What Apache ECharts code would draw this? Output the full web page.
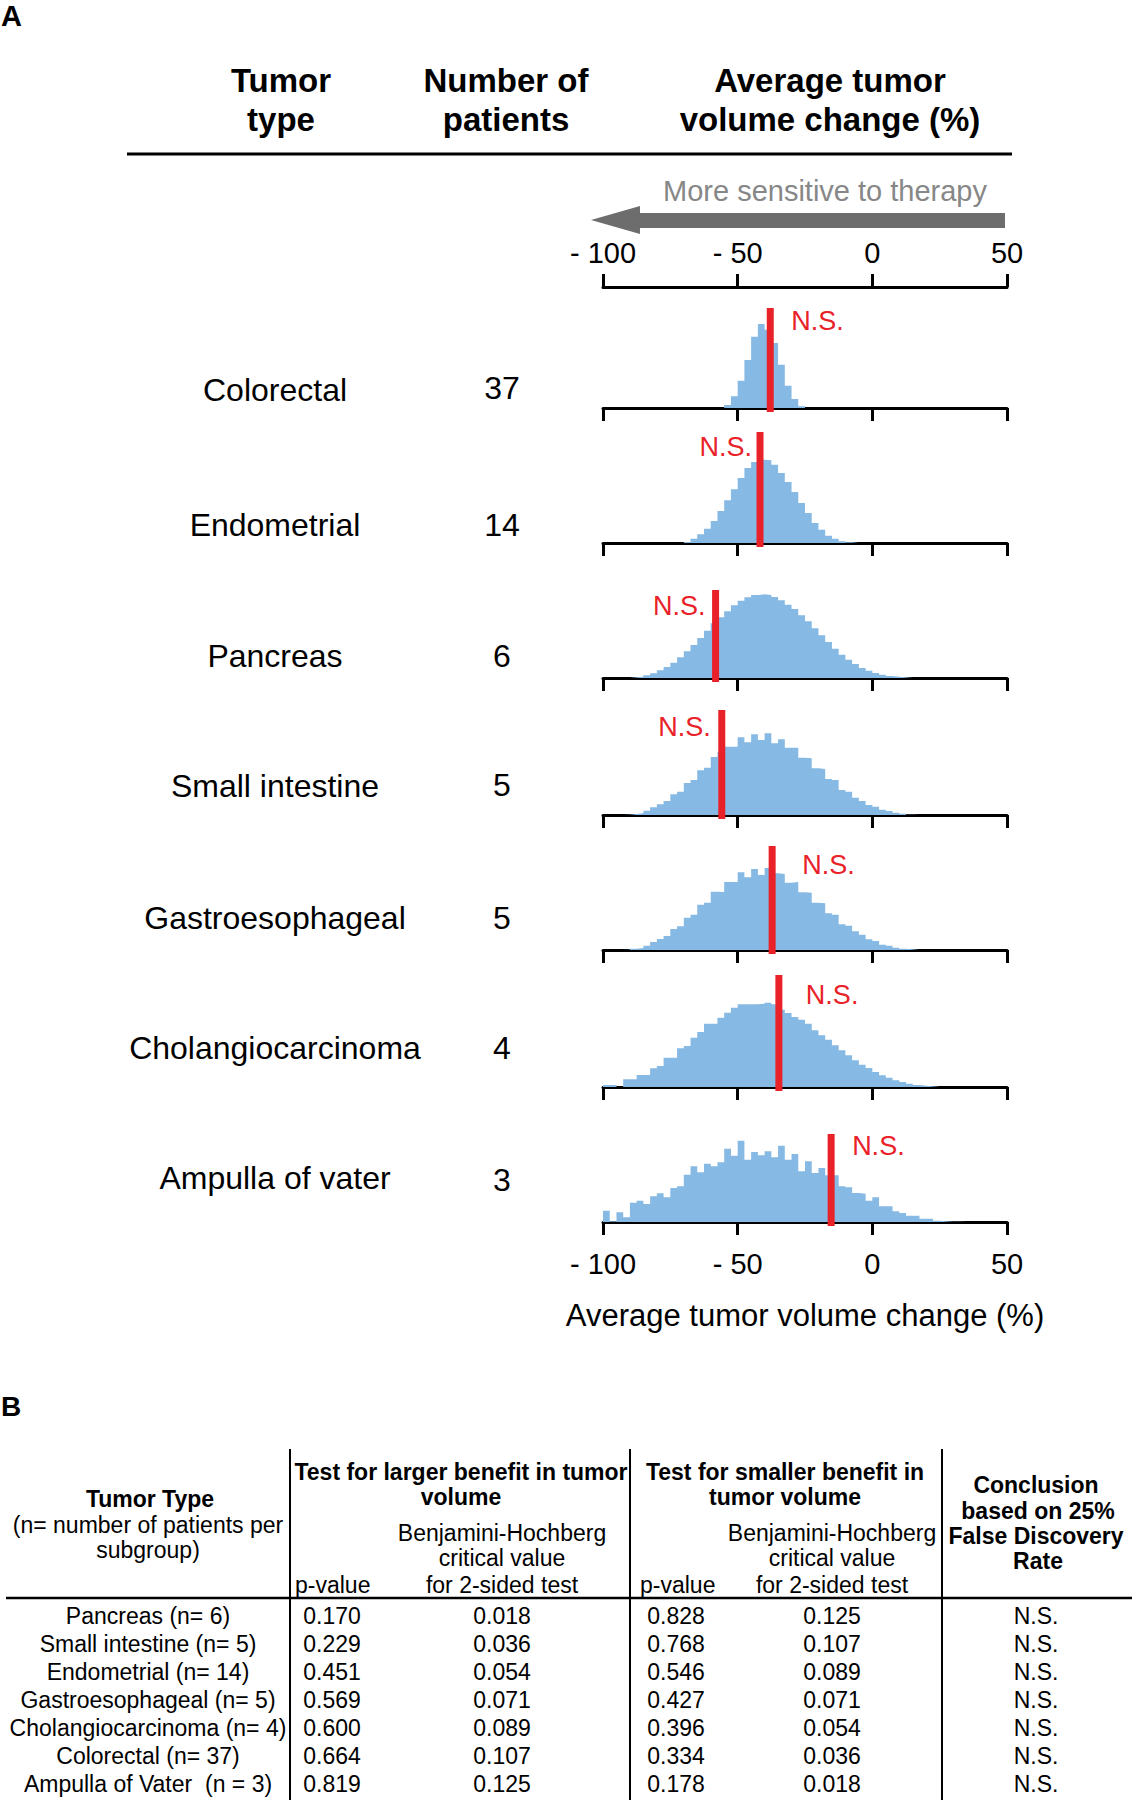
<!DOCTYPE html>
<html><head><meta charset="utf-8">
<script src="https://cdn.jsdelivr.net/npm/echarts@6/dist/echarts.min.js"></script>
<style>html,body{margin:0;padding:0;background:#fff}#chart{width:1132px;height:1800px}</style>
</head><body><div id="chart"></div>
<script>
// ---------------- DATA ----------------
const tumorTypes = ['Colorectal','Endometrial','Pancreas','Small intestine','Gastroesophageal','Cholangiocarcinoma','Ampulla of vater'];
const patientCounts = [37, 14, 6, 5, 5, 4, 3];
const binStart = -100;
const binWidth = 2.5;
// relative frequency of each 2.5-point bin from -100 to +50 (60 bins)
const histColorectal = [0,0,0,0,0,0,0,0,0,0, 0,0,0,0,0,0,0,0,9,35, 82,144,214,252,235,195,130,67,27,5, 0,0,0,0,0,0,0,0,0,0, 0,0,0,0,0,0,0,0,0,0, 0,0,0,0,0,0,0,0,0,0];
const histEndometrial = [0,0,0,0,0,0,0,0,0,0, 0,0,3,13,26,43,66,96,128,161, 195,225,243,250,248,235,210,183,153,120, 90,60,40,22,13,5,2,0,0,0, 0,0,0,0,0,0,0,0,0,0, 0,0,0,0,0,0,0,0,0,0];
const histPancreas = [0,0,0,0,2,4,8,14,23,33, 46,62,80,99,120,142,164,182,200,218, 232,242,249,251,249,243,233,220,207,188, 170,149,128,108,88,70,55,42,30,22, 15,10,6,4,2,0,0,0,0,0, 0,0,0,0,0,0,0,0,0,0];
const histSmallIntestine = [0,0,0,1,3,5,13,23,32,42, 62,70,96,105,134,142,174,190,205,205, 233,218,242,225,245,215,227,202,202,172, 170,140,138,108,105,75,70,52,42,30, 25,16,12,7,4,1,0,0,0,0, 0,0,0,0,0,0,0,0,0,0];
const histGastroesophageal = [0,0,0,1,4,6,13,24,33,42, 63,71,97,106,136,142,175,174,204,204, 233,218,243,225,246,230,228,202,204,173, 172,142,140,110,106,77,73,56,46,32, 27,16,13,7,4,2,0,0,0,0, 0,0,0,0,0,0,0,0,0,0];
const histCholangio = [6,6,0,23,23,36,36,56,63,88, 88,116,123,148,165,190,190,208,223,238, 248,248,248,250,253,248,232,222,210,202, 190,170,155,142,125,110,95,80,67,57, 45,35,28,20,15,10,6,4,2,0, 0,0,0,0,0,0,0,0,0,0];
const histAmpulla = [34,2,29,14,58,64,54,77,86,74, 102,107,142,167,149,175,167,179,220,199, 244,187,210,200,212,194,229,187,204,152, 182,147,162,140,140,107,104,87,85,64, 74,47,47,32,27,19,19,10,10,4, 2,1,1,0,0,0,0,0,0,0];
const histograms = [histColorectal, histEndometrial, histPancreas, histSmallIntestine, histGastroesophageal, histCholangio, histAmpulla];
// observed average tumor volume change (red bar) and its drawn height (same units as frequency)
const observedChange = [-37.9, -41.7, -58.2, -55.9, -37.2, -34.7, -15.3];
const observedBarTop = [300, 333, 264, 315, 312, 336, 264];
const significance = ['N.S.','N.S.','N.S.','N.S.','N.S.','N.S.','N.S.'];
const xTicks = [-100, -50, 0, 50];
const xTickLabels = ['- 100', '- 50', '0', '50'];

// Table B
const tableTypes = ['Pancreas (n= 6)','Small intestine (n= 5)','Endometrial (n= 14)','Gastroesophageal (n= 5)','Cholangiocarcinoma (n= 4)','Colorectal (n= 37)','Ampulla of Vater  (n = 3)'];
const pLarger = ['0.170','0.229','0.451','0.569','0.600','0.664','0.819'];
const bhLarger = ['0.018','0.036','0.054','0.071','0.089','0.107','0.125'];
const pSmaller = ['0.828','0.768','0.546','0.427','0.396','0.334','0.178'];
const bhSmaller = ['0.125','0.107','0.089','0.071','0.054','0.036','0.018'];
const conclusions = ['N.S.','N.S.','N.S.','N.S.','N.S.','N.S.','N.S.'];

// ---------------- LAYOUT ----------------
const FF = '"Liberation Sans", Arial, Helvetica, sans-serif';
const BLUE = '#86B9E4', RED = '#E92128';
const baselines = [408, 543, 678, 815, 950, 1087, 1222];
const rowLabelY = [390, 525, 656, 786, 918, 1048, 1178];
const countY = [388, 525, 656, 785, 918, 1048, 1180];
const nsAbove = [261, 288, 216, 264, 255, 276, 228];
const nsDx = [21, -8, -10, -11, 30, 27, 21];
const GRID_H = 120, Y_MAX = 360;
const tickLabelMap = {};
xTicks.forEach((t, i) => tickLabelMap[t] = xTickLabels[i]);

const grids = [{left: 603, width: 404, top: 287, height: 1}];
const xAxes = [{
  gridIndex: 0, type: 'value', position: 'top', min: -100, max: 50, interval: 50,
  axisLine: {show: true, onZero: false, lineStyle: {color: '#000', width: 3}},
  axisTick: {show: true, length: 13, lineStyle: {color: '#000', width: 3}},
  axisLabel: {show: true, margin: 20, fontSize: 29, fontFamily: FF, color: '#000', formatter: v => tickLabelMap[v]},
  splitLine: {show: false}
}];
const yAxes = [{gridIndex: 0, type: 'value', min: 0, max: 1, show: false}];
const series = [];

histograms.forEach((h, i) => {
  const g = i + 1;
  grids.push({left: 603, width: 404, top: baselines[i] - GRID_H, height: GRID_H});
  const last = i === histograms.length - 1;
  xAxes.push({
    gridIndex: g, type: 'value', min: -100, max: 50, interval: 50,
    axisLine: {show: true, onZero: false, lineStyle: {color: '#000', width: 3}},
    axisTick: {show: true, length: 13, lineStyle: {color: '#000', width: 3}},
    axisLabel: {show: last, margin: 27, fontSize: 29, fontFamily: FF, color: '#000', formatter: v => tickLabelMap[v]},
    splitLine: {show: false},
    name: last ? 'Average tumor volume change (%)' : '',
    nameLocation: 'middle', nameGap: 78,
    nameTextStyle: {fontSize: 31, fontFamily: FF, color: '#000'}
  });
  yAxes.push({gridIndex: g, type: 'value', min: 0, max: Y_MAX, show: false});
  const pts = h.map((v, b) => [binStart + b * binWidth, v]);
  pts.push([binStart + h.length * binWidth, h[h.length - 1]]);
  series.push({
    type: 'line', xAxisIndex: g, yAxisIndex: g, step: 'end', symbol: 'none', silent: true,
    lineStyle: {width: 0, opacity: 0}, areaStyle: {color: BLUE, opacity: 1}, data: pts, z: 2
  });
  series.push({
    type: 'custom', xAxisIndex: g, yAxisIndex: g, clip: false, silent: true, z: 5,
    data: [[observedChange[i], observedBarTop[i]]],
    renderItem: function (params, api) {
      const x = api.value(0);
      const top = api.coord([x, api.value(1)]);
      const bot = api.coord([x, -12]);
      const ns = api.coord([x, nsAbove[i]]);
      const right = nsDx[i] > 0;
      return {type: 'group', children: [
        {type: 'rect', shape: {x: top[0] - 3.5, y: top[1], width: 7, height: bot[1] - top[1]}, style: {fill: RED}},
        {type: 'text', x: ns[0] + nsDx[i], y: ns[1], style: {
          text: significance[i], fill: RED, font: '27px ' + FF,
          textAlign: right ? 'left' : 'right', align: right ? 'left' : 'right',
          textVerticalAlign: 'middle', verticalAlign: 'middle'}}
      ]};
    }
  });
});

// ---------------- GRAPHICS (headers, labels, table) ----------------
const G = [];
function txt(s, x, y, size, opt) {
  opt = opt || {};
  const al = opt.align || 'center';
  G.push({type: 'text', x: x, y: y, silent: true, style: {
    text: s, fill: opt.color || '#000',
    font: (opt.bold ? 'bold ' : '') + size + 'px ' + FF,
    textAlign: al, align: al, textVerticalAlign: 'middle', verticalAlign: 'middle'}});
}
function line(x1, y1, x2, y2, w) {
  G.push({type: 'line', silent: true, shape: {x1, y1, x2, y2}, style: {stroke: '#000', lineWidth: w}});
}
txt('A', 1, 16, 29, {bold: true, align: 'left'});
txt('Tumor', 281, 80, 33, {bold: true});
txt('type', 281, 119, 33, {bold: true});
txt('Number of', 506, 80, 33, {bold: true});
txt('patients', 506, 119, 33, {bold: true});
txt('Average tumor', 830, 80, 33, {bold: true});
txt('volume change (%)', 830, 119, 33, {bold: true});
line(127, 154, 1012, 154, 3);
txt('More sensitive to therapy', 825, 191, 29, {color: '#878787'});
G.push({type: 'polygon', silent: true, shape: {points: [[591,220],[640,206],[640,213],[1005,213],[1005,228],[640,228],[640,234]]}, style: {fill: '#6d6d6d'}});
tumorTypes.forEach((t, i) => {
  txt(t, 275, rowLabelY[i], 32);
  txt(String(patientCounts[i]), 502, countY[i], 32);
});

// Table B
txt('B', 1, 1406, 28, {bold: true, align: 'left'});
const vLines = [290, 630, 942];
vLines.forEach(x => line(x, 1449, x, 1800, 2));
line(6, 1598, 1132, 1598, 2.5);
const TS = 23;
txt('Tumor Type', 150, 1499, TS, {bold: true});
txt('(n= number of patients per', 148, 1525, TS);
txt('subgroup)', 148, 1550, TS);
txt('Test for larger benefit in tumor', 461, 1472, TS, {bold: true});
txt('volume', 461, 1497, TS, {bold: true});
txt('Benjamini-Hochberg', 502, 1533, TS);
txt('critical value', 502, 1558, TS);
txt('for 2-sided test', 502, 1585, TS);
txt('p-value', 295, 1585, TS, {align: 'left'});
txt('Test for smaller benefit in', 785, 1472, TS, {bold: true});
txt('tumor volume', 785, 1497, TS, {bold: true});
txt('Benjamini-Hochberg', 832, 1533, TS);
txt('critical value', 832, 1558, TS);
txt('for 2-sided test', 832, 1585, TS);
txt('p-value', 640, 1585, TS, {align: 'left'});
txt('Conclusion', 1036, 1485, TS, {bold: true});
txt('based on 25%', 1038, 1511, TS, {bold: true});
txt('False Discovery', 1036, 1536, TS, {bold: true});
txt('Rate', 1038, 1561, TS, {bold: true});
const rowY = [1616, 1644, 1672, 1700, 1728, 1756, 1784];
tableTypes.forEach((t, i) => {
  txt(t, 148, rowY[i], TS);
  txt(pLarger[i], 332, rowY[i], TS);
  txt(bhLarger[i], 502, rowY[i], TS);
  txt(pSmaller[i], 676, rowY[i], TS);
  txt(bhSmaller[i], 832, rowY[i], TS);
  txt(conclusions[i], 1036, rowY[i], TS);
});

const chart = echarts.init(document.getElementById('chart'), null, {renderer: 'svg'});
chart.setOption({
  backgroundColor: '#fff',
  animation: false,
  grid: grids, xAxis: xAxes, yAxis: yAxes, series: series,
  graphic: {elements: G}
});
</script></body></html>
